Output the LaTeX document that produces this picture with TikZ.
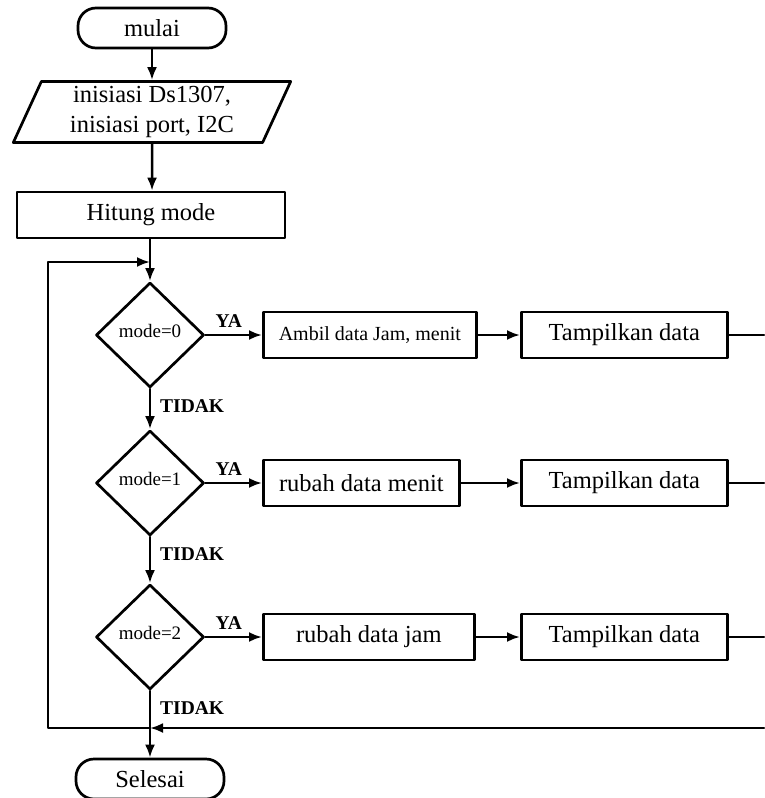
\documentclass[tikz,border=0pt]{standalone}
\usepackage{fontspec}
\setmainfont{Liberation Serif}
\usetikzlibrary{shapes.geometric,arrows.meta}

\begin{document}
\begin{tikzpicture}[x=1pt,y=-1pt,line join=round,line cap=round,>={Latex[length=13pt,width=10pt]},
		font=\fontsize{24.5}{30}\selectfont,
		garis/.style={line width=2.5pt},
		terminal/.style={draw,line width=2.7pt,rounded corners=18pt,minimum width=148pt,minimum height=40pt,inner sep=0pt},
		io/.style={draw,line width=2.7pt,trapezium,trapezium left angle=68,trapezium right angle=112,trapezium stretches=true,minimum width=278pt,minimum height=61pt,align=center,inner sep=0pt},
		proses/.style={draw,line width=2.7pt,minimum height=46pt,inner sep=0pt},
		keputusan/.style={draw,line width=2.7pt,diamond,minimum width=108pt,minimum height=105pt,inner sep=0pt,font=\fontsize{19}{22}\selectfont},
		ket/.style={font=\fontsize{19.5}{22}\selectfont\bfseries,inner sep=0pt}]
	\useasboundingbox (0,0) rectangle (764,798);
	% kolom utama
	\node[terminal] (mulai) at (152,28) {mulai};
	\node[io] (init) at (152,112) {inisiasi Ds1307,\\inisiasi port, I2C};
	\node[proses,minimum width=268pt] (hitung) at (151,215) {Hitung mode};
	\node[terminal] (selesai) at (150,779) {Selesai};
	\coordinate (atas) at (150,262);
	\coordinate (bawah) at (150,728);
	\coordinate (kiriAtas) at (48,262);
	\coordinate (kiriBawah) at (48,728);
	\coordinate (ujung) at (764,728);
	% tiap mode: keputusan, proses, tampil
	\foreach \i/\y/\w/\isi in {0/335/213/{\fontsize{20}{22}\selectfont Ambil data Jam, menit},1/483/196/{rubah data menit},2/637/211/{rubah data jam}}{
		\node[keputusan] (mode\i) at (150,\y) {\raisebox{8pt}{mode=\i}};
		\node[proses,anchor=west,minimum width=\w pt] (ubah\i) at (262,\y) {\isi};
		\node[proses,anchor=west,minimum width=206pt] (tampil\i) at (520,\y) {Tampilkan data};
		\coordinate (kanan\i) at (764,\y);
		\draw[garis,->] (mode\i) -- (ubah\i);
		\draw[garis,->] (ubah\i) -- (tampil\i);
		\draw[garis] (tampil\i) -- (kanan\i);
		\node[ket,anchor=south west] (ya\i) at ([xshift=10pt,yshift=7pt]mode\i.east) {YA};
		\node[ket,anchor=north west] (tidak\i) at ([xshift=10pt,yshift=-11pt]mode\i.south) {TIDAK};
	}
	\draw[garis,->] (mulai) -- (init);
	\draw[garis,->] (init) -- (init.south |- hitung.north);
	\draw[garis,->] (hitung.south -| atas) -- (mode0);
	\draw[garis,->] (mode0) -- (mode1);
	\draw[garis,->] (mode1) -- (mode2);
	\draw[garis,->] (mode2) -- (selesai);
	% balik ke atas
	\draw[garis,->] (bawah) -- (kiriBawah) -- (kiriAtas) -- (atas);
	\draw[garis,->] (ujung) -- (bawah);
\end{tikzpicture}
\end{document}
